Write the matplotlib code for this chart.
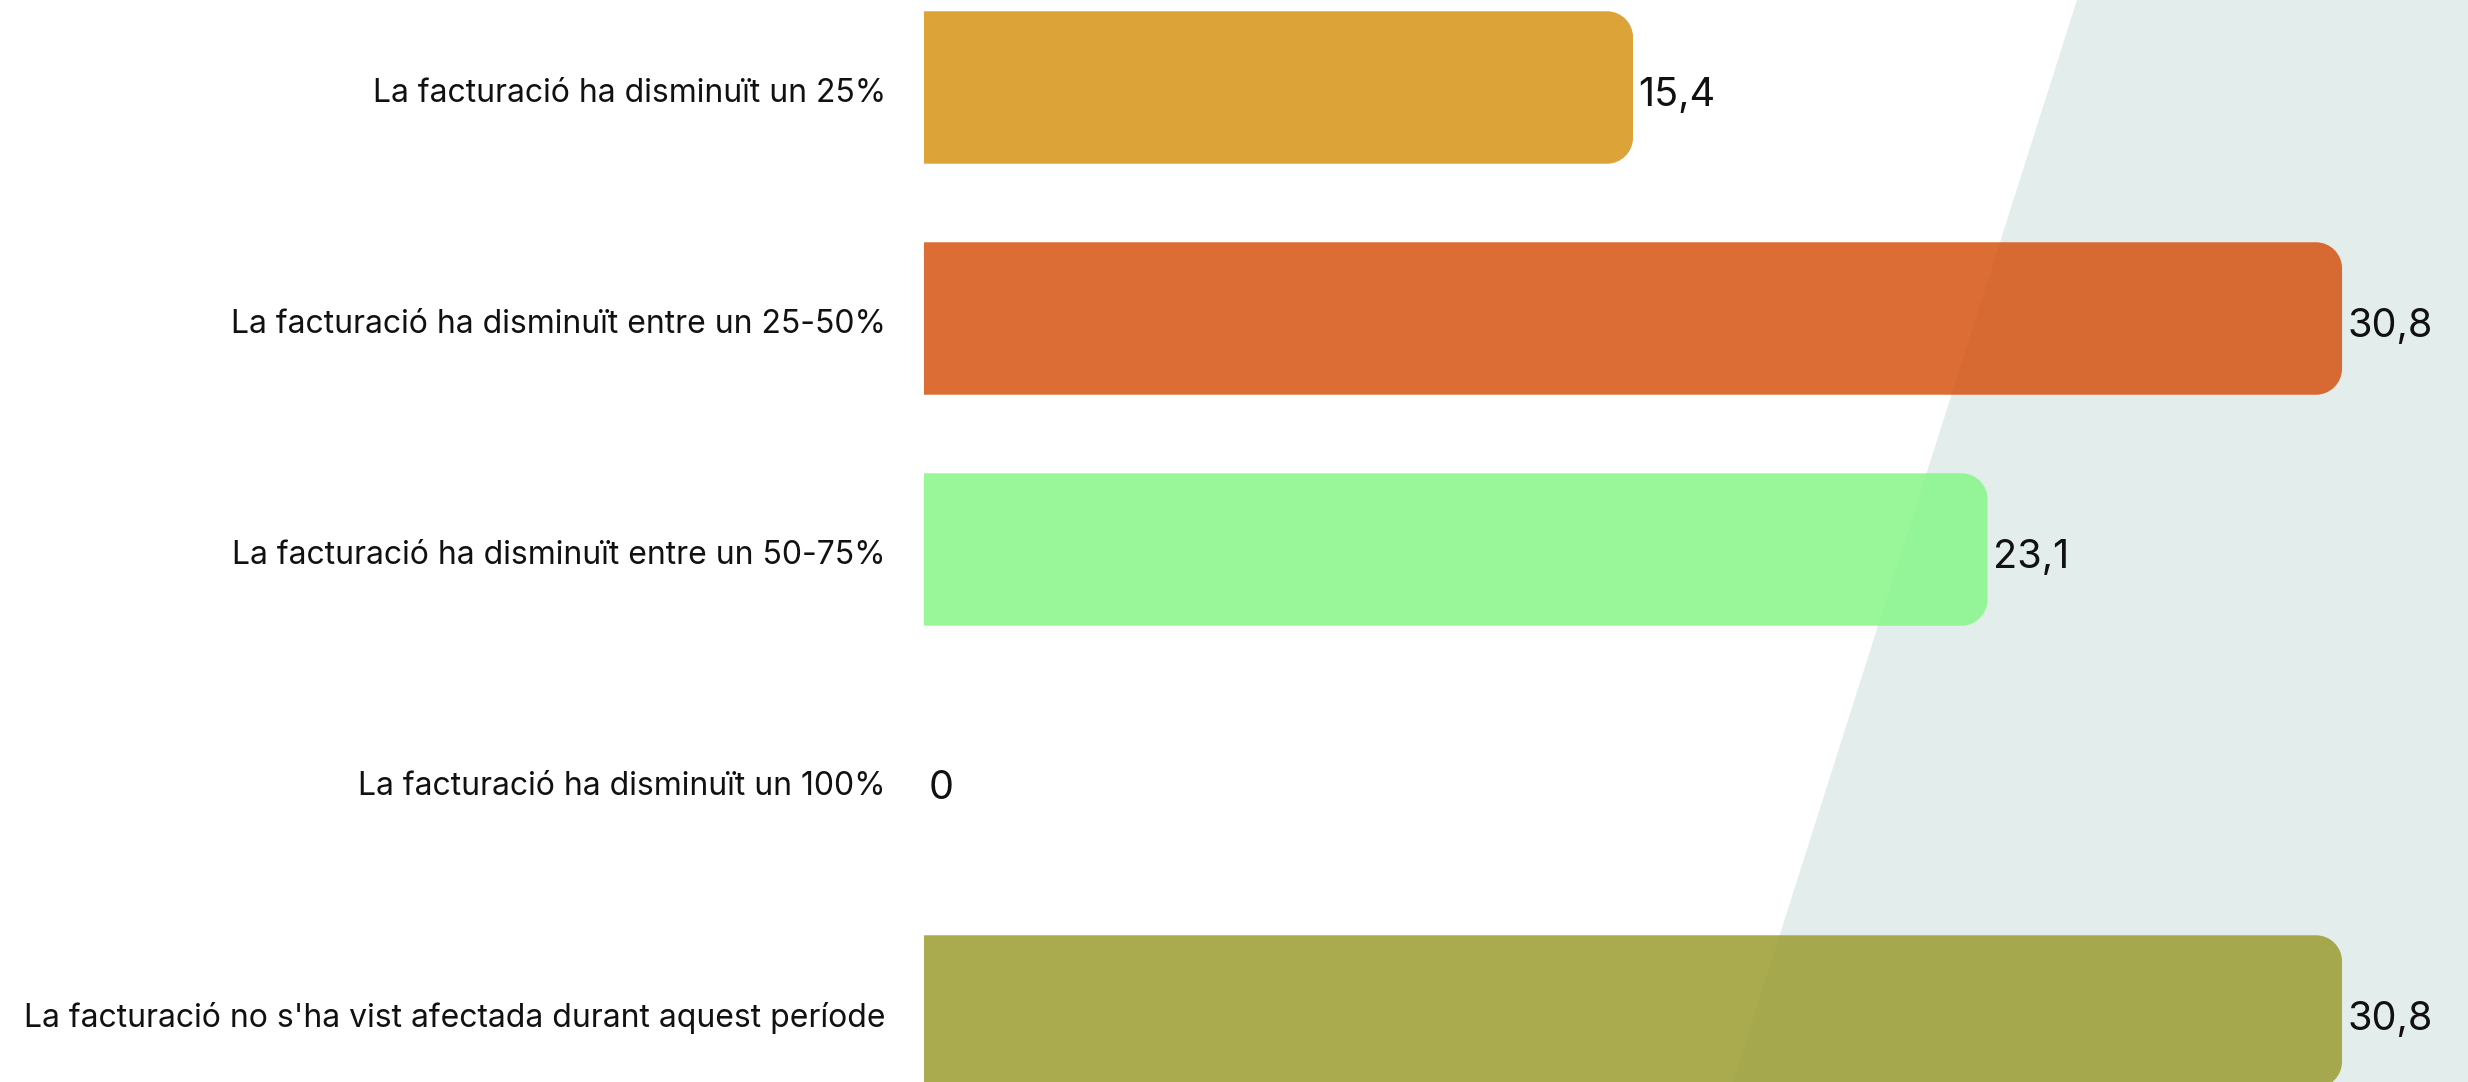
import matplotlib
matplotlib.use("Agg")
import matplotlib.pyplot as plt
from matplotlib.path import Path
from matplotlib.patches import PathPatch, Polygon

categories = [
    "La facturació ha disminuït un 25%",
    "La facturació ha disminuït entre un 25-50%",
    "La facturació ha disminuït entre un 50-75%",
    "La facturació ha disminuït un 100%",
    "La facturació no s'ha vist afectada durant aquest període",
]
values = [15.4, 30.8, 23.1, 0.0, 30.8]
value_labels = ["15,4", "30,8", "23,1", "0", "30,8"]
colors = ["#d69316", "#d65311", "#87f689", "#888888", "#9b9c30"]

W, H, DPI = 2468, 1082, 100
fig = plt.figure(figsize=(W / DPI, H / DPI), dpi=DPI)
fig.patch.set_facecolor("white")

left_px = 924
ax = fig.add_axes([left_px / W, 0, 1 - left_px / W, 1])
ax.set_facecolor("none")

px_per_unit = 46.04
xmax = (W - left_px) / px_per_unit
spacing = 231.0
c0 = 87.5
ax.set_xlim(0, xmax)
ax.set_ylim((H - c0) / spacing, -c0 / spacing)

# background diagonal shape
x_top = (2077 - left_px) / (W - left_px)
x_bot = (1733 - left_px) / (W - left_px)
poly = Polygon([(x_top, 1), (1, 1), (1, 0), (x_bot, 0)], closed=True,
               transform=ax.transAxes, facecolor="#e3edec", edgecolor="none",
               zorder=0, clip_on=False)
ax.add_patch(poly)

ypos = list(range(len(categories)))
bars = ax.barh(ypos, values, height=0.66, color=colors)

rx = 26 / px_per_unit
ry = 26 / spacing
for b, c, v in zip(bars, colors, values):
    b.set_visible(False)
    if v <= 0:
        continue
    x0, y0, w, h = b.get_x(), b.get_y(), b.get_width(), b.get_height()
    x1, y1 = x0 + w, y0 + h
    k = 0.55
    verts = [
        (x0, y0), (x1 - rx, y0),
        (x1 - rx + k * rx, y0), (x1, y0 + ry - k * ry), (x1, y0 + ry),
        (x1, y1 - ry),
        (x1, y1 - ry + k * ry), (x1 - rx + k * rx, y1), (x1 - rx, y1),
        (x0, y1), (x0, y0),
    ]
    codes = [Path.MOVETO, Path.LINETO,
             Path.CURVE4, Path.CURVE4, Path.CURVE4,
             Path.LINETO,
             Path.CURVE4, Path.CURVE4, Path.CURVE4,
             Path.LINETO, Path.CLOSEPOLY]
    ax.add_patch(PathPatch(Path(verts, codes), facecolor=c, edgecolor="none",
                           alpha=0.85, zorder=2))

fam = ["Inter", "DejaVu Sans"]
for y, v, lab in zip(ypos, values, value_labels):
    ax.annotate(lab, (v, y), xytext=(5, -8), textcoords="offset pixels",
                ha="left", va="center", fontsize=28.5, color="#111111",
                family=fam, zorder=3)

# category labels (as y tick labels, drawn with explicit offset)
ax.set_yticks(ypos)
ax.set_yticklabels([""] * len(categories))
for y, cat in zip(ypos, categories):
    ax.annotate(cat, (0, y), xytext=(-38, -6), textcoords="offset pixels",
                ha="right", va="center", fontsize=23, color="#111111",
                family=fam, annotation_clip=False)
ax.tick_params(axis="y", length=0)
ax.set_xticks([])
for s in ax.spines.values():
    s.set_visible(False)

fig.savefig("out.png", dpi=DPI)
